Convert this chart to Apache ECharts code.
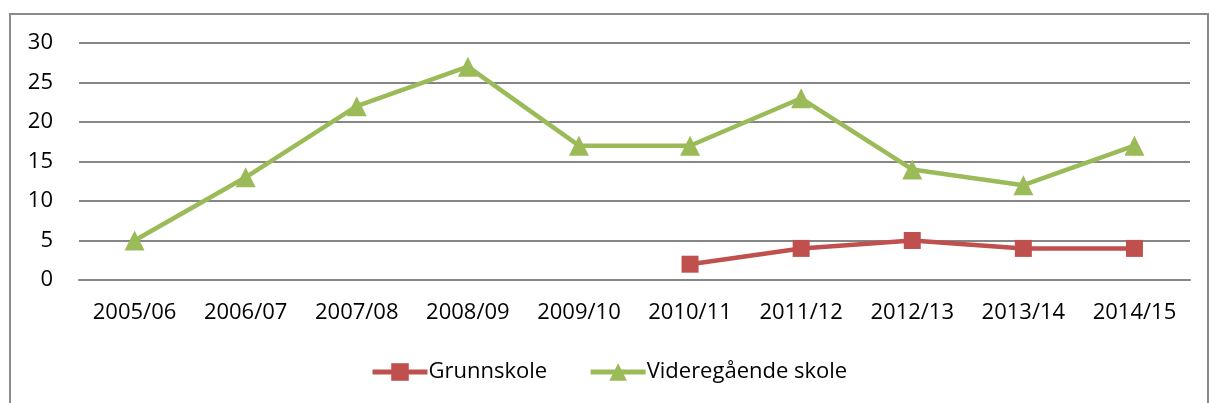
<!DOCTYPE html>
<html><head><meta charset="utf-8">
<script src="https://cdn.jsdelivr.net/npm/echarts@6/dist/echarts.min.js"></script>
<style>html,body{margin:0;padding:0;background:#fff}#c{width:1209px;height:403px}</style>
</head><body><div id="c"></div>
<script>
const categories = ['2005/06','2006/07','2007/08','2008/09','2009/10','2010/11','2011/12','2012/13','2013/14','2014/15'];
const grunnskole = [null,null,null,null,null,2,4,5,4,4];
const videregaende = [5,13,22,27,17,17,23,14,12,17];
const yTicks = {min:0, max:30, interval:5};

const font = 'Open Sans';
const chart = echarts.init(document.getElementById('c'), null, {renderer:'canvas'});
chart.setOption({
  animation:false,
  backgroundColor:'#fff',
  graphic:[{type:'rect', shape:{x:10,y:14,width:1198,height:400}, style:{fill:'none', stroke:'#8a8a8a', lineWidth:2}, silent:true}],
  grid:{left:79, right:19, top:43, bottom:123, containLabel:false},
  legend:{
    left:365, top:356, itemWidth:55, itemHeight:22, itemGap:41,
    lineStyle:{width:5},
    textStyle:{fontFamily:font, fontSize:22, color:'#000', padding:[0,0,0,-4]},
    data:['Grunnskole','Videregående skole']
  },
  xAxis:{
    type:'category', data:categories, boundaryGap:true,
    axisLine:{show:true, lineStyle:{color:'#868686', width:2}},
    axisTick:{show:false},
    axisLabel:{fontFamily:font, fontSize:22, color:'#000', margin:22, interval:0}
  },
  yAxis:{
    type:'value', min:yTicks.min, max:yTicks.max, interval:yTicks.interval,
    axisLine:{show:false}, axisTick:{show:false},
    splitLine:{lineStyle:{color:'#868686', width:2}},
    axisLabel:{fontFamily:font, fontSize:22, color:'#000', margin:26}
  },
  series:[
    {name:'Grunnskole', type:'line', data:grunnskole, symbol:'rect', symbolSize:17,
     lineStyle:{color:'#C0504D', width:4.5}, itemStyle:{color:'#C0504D'}, connectNulls:false},
    {name:'Videregående skole', type:'line', data:videregaende, symbol:'triangle', symbolSize:20,
     lineStyle:{color:'#9BBB59', width:4.5}, itemStyle:{color:'#9BBB59'}}
  ]
});
</script></body></html>
